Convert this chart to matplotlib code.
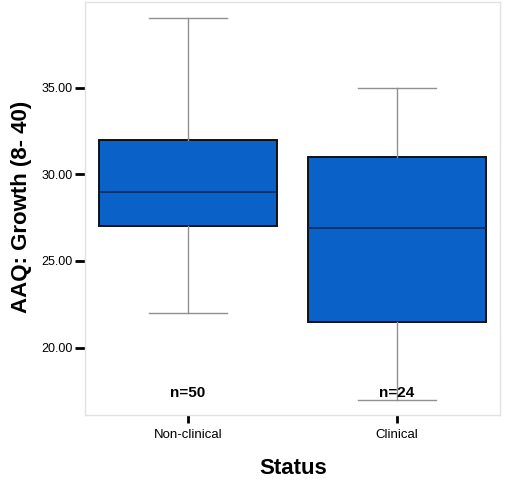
import matplotlib.pyplot as plt

plt.rcParams['font.family'] = ['Liberation Sans', 'DejaVu Sans']

# group summaries (AAQ growth scores)
groups = ['Non-clinical', 'Clinical']
counts = [50, 24]
whislo = [22.0, 17.0]
q1 = [27.0, 21.5]
med = [29.0, 26.9]
q3 = [32.0, 31.0]
whishi = [39.0, 35.0]

stats = []
for i in range(len(groups)):
    stats.append({'label': groups[i], 'whislo': whislo[i], 'q1': q1[i],
                  'med': med[i], 'q3': q3[i], 'whishi': whishi[i], 'fliers': []})

fig = plt.figure(figsize=(5.09, 4.8), dpi=100)
ax = fig.add_axes([0.167, 0.135, 0.815, 0.861])

ax.bxp(stats, positions=[1, 2], widths=0.85, patch_artist=True, showfliers=False,
       boxprops=dict(facecolor='#0a62c8', edgecolor='#111111', linewidth=1.4),
       medianprops=dict(color='#0d2a5c', linewidth=1.2),
       whiskerprops=dict(color='#909090', linewidth=1.0),
       capprops=dict(color='#909090', linewidth=1.0),
       capwidths=0.37)

for i in range(len(groups)):
    ax.text(i + 1, 0.053, 'n=%d' % counts[i], transform=ax.get_xaxis_transform(),
            ha='center', va='center', fontsize=11, fontweight='bold')

ax.set_xlim(0.507, 2.493)
ax.set_ylim(16.1, 39.95)
ax.set_yticks([20, 25, 30, 35])
ax.set_yticklabels(['20.00', '25.00', '30.00', '35.00'], fontsize=9)
ax.set_xticks([1, 2])
ax.set_xticklabels(groups, fontsize=9.5)
ax.tick_params(axis='y', length=7, width=2, pad=2)
ax.tick_params(axis='x', length=6, width=2, pad=4)

for s in ax.spines.values():
    s.set_color('#e2e2e2')
    s.set_linewidth(1)

ax.set_ylabel('AAQ: Growth (8- 40)', fontsize=16, fontweight='bold', va='center')
ax.yaxis.set_label_coords(-0.152, 0.504)
ax.set_xlabel('Status', fontsize=16, fontweight='bold', va='center')
ax.xaxis.set_label_coords(0.501, -0.128)

plt.savefig('out.png', dpi=100)
